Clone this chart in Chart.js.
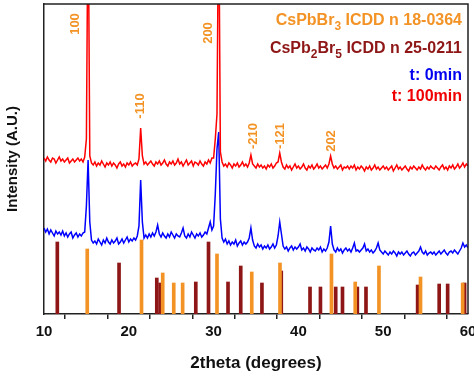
<!DOCTYPE html>
<html>
<head>
<meta charset="utf-8">
<script src="https://cdn.jsdelivr.net/npm/chart.js@4.4.1/dist/chart.umd.min.js"></script>
<style>
  html, body { margin: 0; padding: 0; background: #fff; }
  #wrap { width: 474px; height: 376px; }
</style>
</head>
<body>
<div id="wrap"><canvas id="xrd"></canvas></div>
<script>
// 2theta grid of the scans
const thetaStart = 10;
const thetaStep = 0.2;

// t: 100min (red), one value per grid step
const redCounts = [
  156,153,157,154,152,156,155,151,154,157,
  153,155,152,154,156,151,153,155,152,154,
  156,153,155,152,157,175,420,158,151,149,
  152,148,151,149,153,150,147,151,149,152,
  148,151,149,146,150,152,148,150,147,151,
  149,152,148,150,151,149,155,186,158,150,
  152,149,151,153,150,148,152,150,153,149,
  151,154,150,148,152,150,153,149,151,155,
  150,152,148,151,154,149,151,153,148,152,
  151,149,153,150,148,152,150,154,151,156,
  156,175,200,420,162,152,148,150,147,151,
  149,146,150,148,151,147,149,152,148,150,
  147,151,159,150,148,146,150,147,149,146,
  148,145,149,147,150,146,148,151,152,161,
  152,147,145,149,146,148,144,147,150,146,
  148,145,147,150,146,144,148,146,149,145,
  147,150,146,148,145,147,149,146,150,158,
  150,146,148,145,147,149,144,147,146,148,
  145,148,146,149,144,147,145,148,146,143,
  147,145,148,144,146,149,145,147,144,146,
  148,145,147,144,146,148,143,146,149,145,
  147,144,146,148,145,143,147,145,148,146,
  144,147,145,149,146,144,147,145,148,146,
  145,148,146,144,147,149,145,147,144,148,
  146,149,145,147,150,146,148,151,147,150,
  148
];

// t: 0min (blue)
const blueCounts = [
  86,82,85,80,84,81,78,83,80,82,
  79,83,78,81,77,80,82,76,79,81,
  77,80,78,81,82,108,154,92,74,71,
  73,70,75,72,69,74,71,76,72,70,
  74,71,73,76,70,72,75,71,74,77,
  72,75,73,76,74,78,88,134,92,76,
  79,76,80,77,81,78,82,89,80,77,
  81,78,76,80,77,82,79,76,80,78,
  77,81,86,78,76,80,77,82,79,76,
  80,78,81,77,79,82,80,86,92,84,
  88,120,165,182,95,76,72,75,70,73,
  69,72,70,74,68,71,73,69,72,70,
  72,76,86,74,68,66,70,67,69,65,
  68,66,69,65,67,70,66,69,78,92,
  80,68,65,67,63,66,68,64,67,65,
  67,70,64,66,63,67,65,62,66,64,
  63,66,64,67,62,65,63,66,72,88,
  70,64,62,66,63,65,61,64,66,63,
  65,62,66,71,63,64,62,64,66,70,
  63,65,62,64,61,63,66,71,64,62,
  60,63,61,59,62,60,63,61,58,62,
  60,62,59,61,63,60,58,61,62,59,
  61,63,67,62,60,63,59,61,62,60,
  62,59,61,63,60,62,64,61,59,62,
  63,61,64,62,60,63,66,71,67,69,
  66
];

// reference patterns
const cspbbr3Theta = [15.1, 21.5, 24.0, 25.3, 26.35, 30.4, 34.5, 37.83, 43.9, 46.7, 49.5, 54.4, 59.37];
const cspbbr3Height = [65, 74, 41, 31, 31, 60, 42, 51, 60, 32, 48, 37, 31];
const cspb2br5Theta = [11.57, 18.85, 23.3, 23.7, 27.9, 29.4, 31.7, 33.2, 35.7, 37.98, 41.37, 42.6, 44.4, 45.2, 46.95, 47.97, 54.06, 56.6, 57.6, 59.6];
const cspb2br5Height = [72, 51, 36, 31, 32, 72, 32, 48, 31, 43, 27, 27, 27, 27, 27, 27, 29, 30, 30, 31];

// hkl labels
const hklText = ['100', '-110', '200', '-210', '-121', '202'];
const hklTheta = [13.66, 21.32, 29.34, 34.65, 37.83, 43.93];
const hklLevel = [290, 208, 281, 178, 178, 173];

const orange = '#f39325';
const darkRed = '#8e1616';
const fontFam = "'Liberation Sans', Arial, sans-serif";

function scan(counts) {
  return counts.map((c, i) => ({ x: thetaStart + i * thetaStep, y: c }));
}
function sticks(theta, h) {
  return theta.map((t, i) => ({ x: t, y: h[i] }));
}

const frame = {
  id: 'frame',
  afterDraw(chart) {
    const { ctx, chartArea: a } = chart;
    ctx.save();
    ctx.strokeStyle = '#222';
    ctx.lineWidth = 1.5;
    ctx.beginPath();
    ctx.moveTo(a.left, a.top);
    ctx.lineTo(a.right, a.top);
    ctx.lineTo(a.right, a.bottom);
    ctx.stroke();
    ctx.restore();
  }
};

function richRight(ctx, parts, right, base, color, size) {
  const sub = Math.round(size * 0.72);
  let w = 0;
  parts.forEach(p => {
    ctx.font = 'bold ' + (p[1] ? sub : size) + 'px ' + fontFam;
    w += ctx.measureText(p[0]).width;
  });
  let x = right - w;
  ctx.fillStyle = color;
  ctx.textAlign = 'left';
  ctx.textBaseline = 'alphabetic';
  parts.forEach(p => {
    ctx.font = 'bold ' + (p[1] ? sub : size) + 'px ' + fontFam;
    ctx.fillText(p[0], x, p[1] ? base + 5 : base);
    x += ctx.measureText(p[0]).width;
  });
}

const notes = {
  id: 'notes',
  afterDatasetsDraw(chart) {
    const { ctx, scales } = chart;
    ctx.save();
    ctx.fillStyle = orange;
    ctx.font = 'bold 13px ' + fontFam;
    ctx.textAlign = 'center';
    ctx.textBaseline = 'middle';
    hklText.forEach((t, i) => {
      const x = scales.x.getPixelForValue(hklTheta[i]);
      const y = scales.y.getPixelForValue(hklLevel[i]);
      ctx.save();
      ctx.translate(x, y);
      ctx.rotate(-Math.PI / 2);
      ctx.fillText(t, 0, 0);
      ctx.restore();
    });
    richRight(ctx, [['CsPbBr', 0], ['3', 1], [' ICDD n 18-0364', 0]], 462, 25, orange, 16);
    richRight(ctx, [['CsPb', 0], ['2', 1], ['Br', 0], ['5', 1], [' ICDD n 25-0211', 0]], 462, 53, darkRed, 16);
    richRight(ctx, [['t: 0min', 0]], 462, 80, '#0000f0', 16);
    richRight(ctx, [['t: 100min', 0]], 462, 101, '#f00000', 16);
    ctx.restore();
  }
};

new Chart(document.getElementById('xrd'), {
  type: 'line',
  data: {
    datasets: [
      { label: 't: 100min', data: scan(redCounts), borderColor: '#ff0000', borderWidth: 1.5, pointRadius: 0, tension: 0 },
      { label: 't: 0min', data: scan(blueCounts), borderColor: '#0000ff', borderWidth: 1.5, pointRadius: 0, tension: 0 },
      { type: 'bar', label: 'CsPbBr3', data: sticks(cspbbr3Theta, cspbbr3Height), backgroundColor: orange, barThickness: 3, grouped: false },
      { type: 'bar', label: 'CsPb2Br5', data: sticks(cspb2br5Theta, cspb2br5Height), backgroundColor: darkRed, barThickness: 3, grouped: false }
    ]
  },
  options: {
    responsive: true,
    maintainAspectRatio: false,
    animation: false,
    devicePixelRatio: 1,
    layout: { padding: { top: 4, right: 6, left: 0, bottom: 0 } },
    plugins: { legend: { display: false }, tooltip: { enabled: false } },
    scales: {
      x: {
        type: 'linear',
        min: 10,
        max: 60,
        offset: false,
        border: { display: true, color: '#222', width: 1.5 },
        grid: { display: true, drawOnChartArea: false, drawTicks: true, tickLength: 5, color: '#222', lineWidth: 1.5 },
        ticks: {
          stepSize: 5,
          padding: 4,
          maxRotation: 0,
          autoSkip: false,
          color: '#111',
          font: { family: fontFam, size: 15, weight: 'bold' },
          callback: v => (v % 10 === 0 ? v : '')
        },
        title: { display: true, text: '2theta (degrees)', color: '#111', padding: { top: 0, bottom: 2 }, font: { family: fontFam, size: 17, weight: 'bold' } },
        afterFit(s) { s.height = 62; s.paddingLeft = 0; s.paddingRight = 0; }
      },
      y: {
        min: 0,
        max: 310,
        border: { display: true, color: '#222', width: 1.5 },
        grid: { display: false },
        ticks: { display: false },
        title: { display: true, text: 'Intensity (A.U.)', color: '#111', padding: { top: 4, bottom: 4 }, font: { family: fontFam, size: 15, weight: 'bold' } },
        afterFit(s) { s.width = 44; }
      }
    }
  },
  plugins: [frame, notes]
});
</script>
</body>
</html>
